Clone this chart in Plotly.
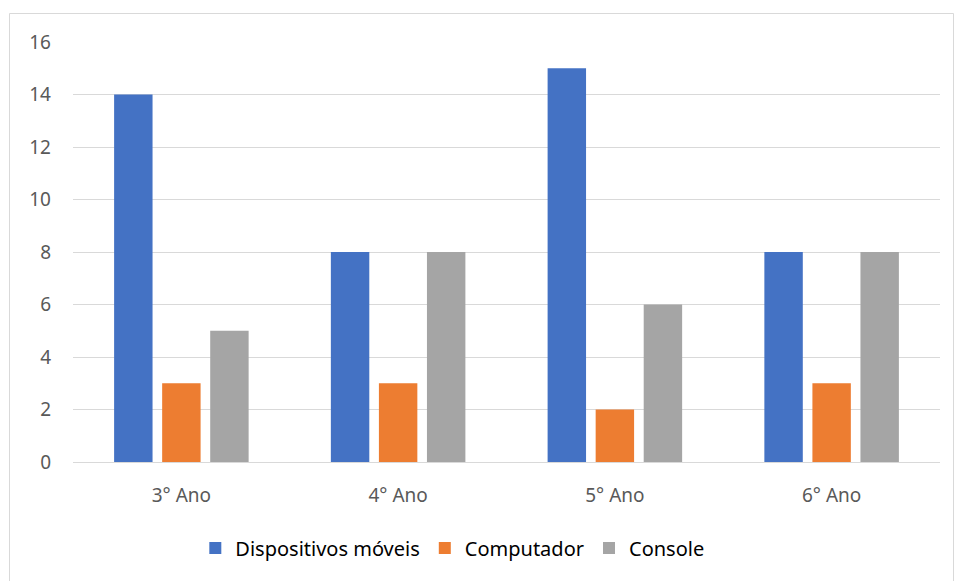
import plotly.graph_objects as go

categories = ["3° Ano", "4° Ano", "5° Ano", "6° Ano"]
dispositivos = [14, 8, 15, 8]
computador = [3, 3, 2, 3]
console = [5, 8, 6, 8]
series_names = ["Dispositivos móveis", "Computador", "Console"]
colors = ["#4472C4", "#ED7D31", "#A5A5A5"]
y_ticks = [0, 2, 4, 6, 8, 10, 12, 14, 16]

fig = go.Figure()
for name, vals, col in zip(series_names, [dispositivos, computador, console], colors):
    fig.add_trace(go.Bar(name=name, x=categories, y=vals, marker=dict(color=col, line=dict(width=0))))

L, R, T, B = 73, 14, 42, 119
W, H = 954, 581
pw, ph = W - L - R, H - T - B

def px(x):
    return (x - L) / pw

def py(y):
    return (H - B - y) / ph

fig.update_layout(
    width=W, height=H,
    margin=dict(l=L, r=R, t=T, b=B, pad=0),
    paper_bgcolor="white", plot_bgcolor="white",
    barmode="group", bargap=0.335, bargroupgap=0.2,
    font=dict(family="Noto Sans", color="#595959", size=19),
    showlegend=True,
    legend=dict(orientation="h", x=0.4375, xanchor="center", y=py(548), yanchor="middle",
                font=dict(size=20, color="#000000"), itemwidth=30, traceorder="normal"),
    xaxis=dict(showgrid=False, showline=False, ticks="", tickfont=dict(size=19, color="#595959"),
               ticklabelstandoff=20),
    yaxis=dict(range=[0, 16], tickvals=y_ticks, showgrid=True, gridcolor="#D9D9D9", gridwidth=1,
               zeroline=True, zerolinecolor="#D9D9D9", zerolinewidth=1, showline=False,
               ticks="", tickfont=dict(size=19, color="#595959"), ticklabelstandoff=21),
    shapes=[dict(type="rect", xref="paper", yref="paper",
                 x0=px(9.5), x1=px(953.5), y0=py(600), y1=py(13.5),
                 line=dict(color="#D9D9D9", width=1), fillcolor="rgba(0,0,0,0)", layer="below")],
)

fig.write_html("out.html")
